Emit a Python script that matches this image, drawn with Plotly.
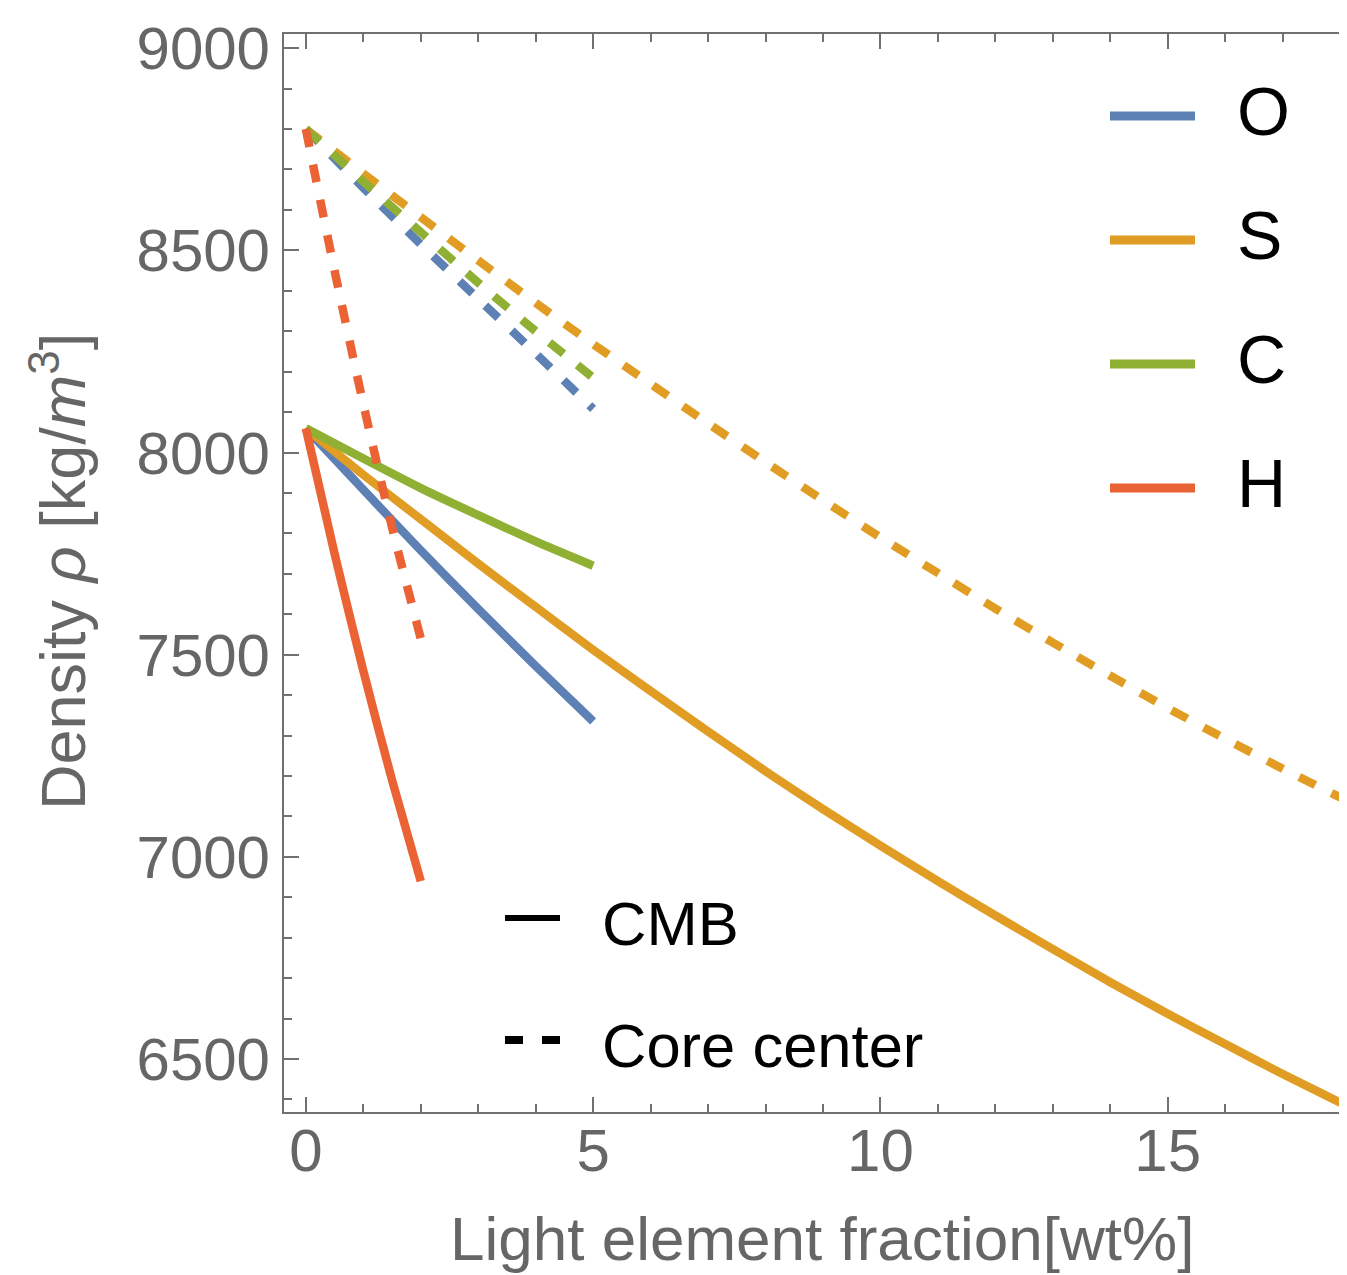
import plotly.graph_objects as go

# ---------------- data ----------------
elements = ["O", "S", "C", "H"]
colors = {"O": "#5E81B5", "S": "#E19C24", "C": "#8FB032", "H": "#EB6235"}

# CMB (solid)
x_O = [0, 1, 2, 3, 4, 5]
cmb_O = [8060, 7908, 7758, 7613, 7472, 7335]
x_S = list(range(0, 18)) + [18.1]
cmb_S = [8060, 7945, 7835, 7725, 7618, 7512, 7410, 7310, 7212, 7118,
         7028, 6940, 6855, 6772, 6690, 6612, 6537, 6463, 6385]
x_C = [0, 1, 2, 3, 4, 5]
cmb_C = [8060, 7985, 7912, 7845, 7780, 7720]
x_H = [0, 0.5, 1, 1.5, 2]
cmb_H = [8060, 7750, 7460, 7190, 6940]

# Core center (dashed)
core_O = [8800, 8655, 8515, 8380, 8245, 8108]
core_S = [8800, 8690, 8582, 8475, 8370, 8268, 8170, 8072, 7976, 7882,
          7790, 7702, 7614, 7530, 7448, 7368, 7292, 7218, 7140]
core_C = [8800, 8670, 8545, 8420, 8300, 8185]
core_H = [8800, 8450, 8120, 7815, 7540]

xs = {"O": x_O, "S": x_S, "C": x_C, "H": x_H}
cmb = {"O": cmb_O, "S": cmb_S, "C": cmb_C, "H": cmb_H}
core = {"O": core_O, "S": core_S, "C": core_C, "H": core_H}

x_ticks = [0, 5, 10, 15]
y_ticks = [6500, 7000, 7500, 8000, 8500, 9000]
style_labels = ["CMB", "Core center"]

# ---------------- layout constants ----------------
OFF = 8                      # page body margin
FIG_W, FIG_H = 1347 - OFF, 1275 - OFF
PL, PR, PT, PB = 284, 1347, 34, 1112   # plot area in page pixels
PW, PH = PR - PL, PB - PT
def pxx(x):
    return (x - PL) / PW
def pxy(y):
    return (PB - y) / PH

LW = 8.5
DASH = "18px,18px"
FONT = "Liberation Sans, Arial, Helvetica, sans-serif"
GRAY = "#666666"
AXC = "#707070"

fig = go.Figure()
for el in elements:
    fig.add_trace(go.Scatter(x=xs[el], y=cmb[el], mode="lines", name=el + " CMB",
                             line=dict(color=colors[el], width=LW, shape="spline", smoothing=0.6),
                             showlegend=False))
for el in elements:
    fig.add_trace(go.Scatter(x=xs[el], y=core[el], mode="lines", name=el + " core",
                             line=dict(color=colors[el], width=LW, dash=DASH, shape="spline", smoothing=0.6),
                             showlegend=False))

axis_common = dict(
    showline=True, linecolor=AXC, linewidth=2,
    ticks="inside", ticklen=15, tickwidth=1.7, tickcolor=AXC,
    showgrid=False, zeroline=False,
    tickfont=dict(family=FONT, size=60, color=GRAY),
)

fig.update_xaxes(range=[-0.38, 18.12], tickvals=x_ticks, ticktext=[str(v) for v in x_ticks],
                 minor=dict(ticks="inside", dtick=1, tick0=0, ticklen=8, tickwidth=1.5, tickcolor=AXC),
                 mirror="ticks", ticklabelstandoff=-15, **axis_common)
fig.update_yaxes(range=[6369, 9035], tickvals=y_ticks, ticktext=[str(v) for v in y_ticks],
                 minor=dict(ticks="inside", dtick=100, tick0=0, ticklen=8, tickwidth=1.5, tickcolor=AXC),
                 mirror=False, ticklabelstandoff=0, **axis_common)

annotations = []
shapes = []
# axis titles
annotations.append(dict(text="Light element fraction[wt%]", xref="paper", yref="paper",
                        x=pxx(822), y=pxy(1238), xanchor="center", yanchor="middle",
                        showarrow=False, font=dict(family=FONT, size=62, color=GRAY)))
annotations.append(dict(text="Density <i>ρ</i> [kg/<i>m</i><sup>3</sup>]", xref="paper", yref="paper",
                        x=pxx(58), y=pxy(572), xanchor="center", yanchor="middle", textangle=-90,
                        showarrow=False, font=dict(family=FONT, size=63, color=GRAY)))

# element legend
leg_y = [116, 240, 364, 488]
for el, yy in zip(elements, leg_y):
    shapes.append(dict(type="line", xref="paper", yref="paper",
                       x0=pxx(1110), x1=pxx(1195), y0=pxy(yy), y1=pxy(yy),
                       line=dict(color=colors[el], width=9)))
    annotations.append(dict(text=el, xref="paper", yref="paper", x=pxx(1235), y=pxy(yy - 5),
                            xanchor="left", yanchor="middle", showarrow=False,
                            font=dict(family=FONT, size=68, color="black")))

# style legend
sty_y = [918, 1040]
sty_dash = ["solid", "18px,19px"]
for lab, yy, d in zip(style_labels, sty_y, sty_dash):
    shapes.append(dict(type="line", xref="paper", yref="paper",
                       x0=pxx(505), x1=pxx(560), y0=pxy(yy), y1=pxy(yy),
                       line=dict(color="black", width=6 if d == "solid" else 8, dash=d)))
    annotations.append(dict(text=lab, xref="paper", yref="paper", x=pxx(600), y=pxy(yy + 5),
                            xanchor="left", yanchor="middle", showarrow=False,
                            font=dict(family=FONT, size=61.5, color="black")))

fig.update_layout(
    width=FIG_W, height=FIG_H,
    margin=dict(l=PL - OFF, r=0, t=PT - OFF, b=FIG_H - (PB - OFF), autoexpand=False),
    paper_bgcolor="white", plot_bgcolor="white",
    showlegend=False,
    annotations=annotations, shapes=shapes,
)

fig.write_html("out.html")
